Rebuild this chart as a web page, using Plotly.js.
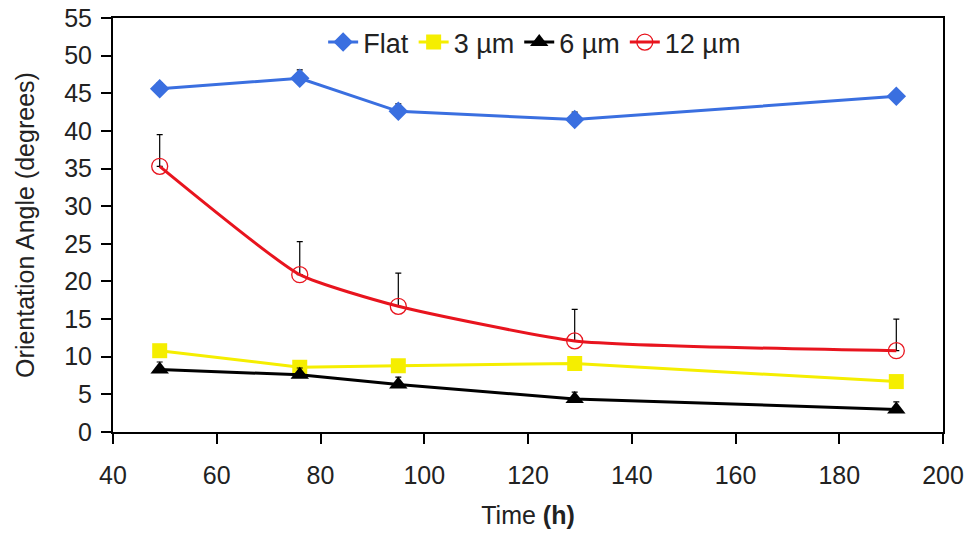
<!DOCTYPE html>
<html>
<head>
<meta charset="utf-8">
<script src="https://cdn.plot.ly/plotly-3.0.1.min.js"></script>
<style>html,body{margin:0;padding:0;background:#fff;}#chart{width:971px;height:533px;}</style>
</head>
<body>
<div id="chart"></div>
<script>
const timeH = [49, 76, 95, 129, 191];
const flat = [45.6, 47.0, 42.6, 41.5, 44.6];
const flatErr = [0.8, 1.1, 1.0, 1.0, 0.6];
const um3 = [10.8, 8.6, 8.8, 9.1, 6.7];
const um3Err = [0.6, 0.6, 0.6, 0.6, 0.6];
const um6 = [8.3, 7.6, 6.3, 4.4, 3.0];
const um6Err = [1.0, 0.9, 1.0, 0.9, 1.0];
const um12 = [35.3, 20.9, 16.7, 12.1, 10.8];
const um12Err = [4.2, 4.4, 4.4, 4.2, 4.2];
const seriesNames = ['Flat', '3 µm', '6 µm', '12 µm'];

function errY(arr){
  return {type:'data', array:arr, arrayminus:arr.map(()=>0), symmetric:false, color:'#000', thickness:1.2, width:3, visible:true};
}

const traces = [
  {x:timeH, y:flat, name:seriesNames[0], mode:'lines+markers', error_y:errY(flatErr),
   line:{color:'#3a6fe0', width:3}, marker:{symbol:'diamond', size:15, color:'#3a6fe0'}},
  {x:timeH, y:um3, name:seriesNames[1], mode:'lines+markers', error_y:errY(um3Err),
   line:{color:'#f5ee00', width:3}, marker:{symbol:'square', size:15, color:'#f5ee00'}},
  {x:timeH, y:um6, name:seriesNames[2], mode:'lines+markers', error_y:errY(um6Err),
   line:{color:'#000', width:3}, marker:{symbol:'triangle-up', size:16, color:'#000'}},
  {x:timeH, y:um12, name:seriesNames[3], mode:'lines+markers', error_y:errY(um12Err),
   line:{color:'#e8141e', width:3, shape:'spline', smoothing:0.5},
   marker:{symbol:'circle-open', size:16, color:'#e8141e', line:{width:1.3, color:'#e8141e'}}}
];

const layout = {
  width:971, height:533,
  margin:{l:113, r:28, t:18, b:101},
  paper_bgcolor:'#fff', plot_bgcolor:'#fff',
  font:{family:'Liberation Sans, Arial, sans-serif', size:25, color:'#222'},
  showlegend:true,
  legend:{orientation:'h', x:0.508, xanchor:'center', y:1.0, yanchor:'top', bgcolor:'rgba(0,0,0,0)',
          font:{size:27}, itemwidth:30, tracegroupgap:0},
  xaxis:{range:[40,200], tickvals:[40,60,80,100,120,140,160,180,200], ticks:'outside', ticklen:10, tickwidth:2,
         tickcolor:'#000', showline:true, linecolor:'#000', linewidth:2, mirror:true, showgrid:false, zeroline:false,
         ticklabelstandoff:10, tickfont:{size:25}, title:{text:'Time <b>(h)</b>', font:{size:25}, standoff:18}},
  yaxis:{range:[0,55], dtick:5, ticks:'outside', ticklen:10, tickwidth:2, tickcolor:'#000',
         showline:true, linecolor:'#000', linewidth:2, mirror:true, showgrid:false, zeroline:false,
         ticklabelstandoff:4, tickfont:{size:25}, title:{text:'Orientation Angle (degrees)', font:{size:25}, standoff:22}}
};

Plotly.newPlot('chart', traces, layout, {displayModeBar:false, staticPlot:true});
</script>
</body>
</html>
